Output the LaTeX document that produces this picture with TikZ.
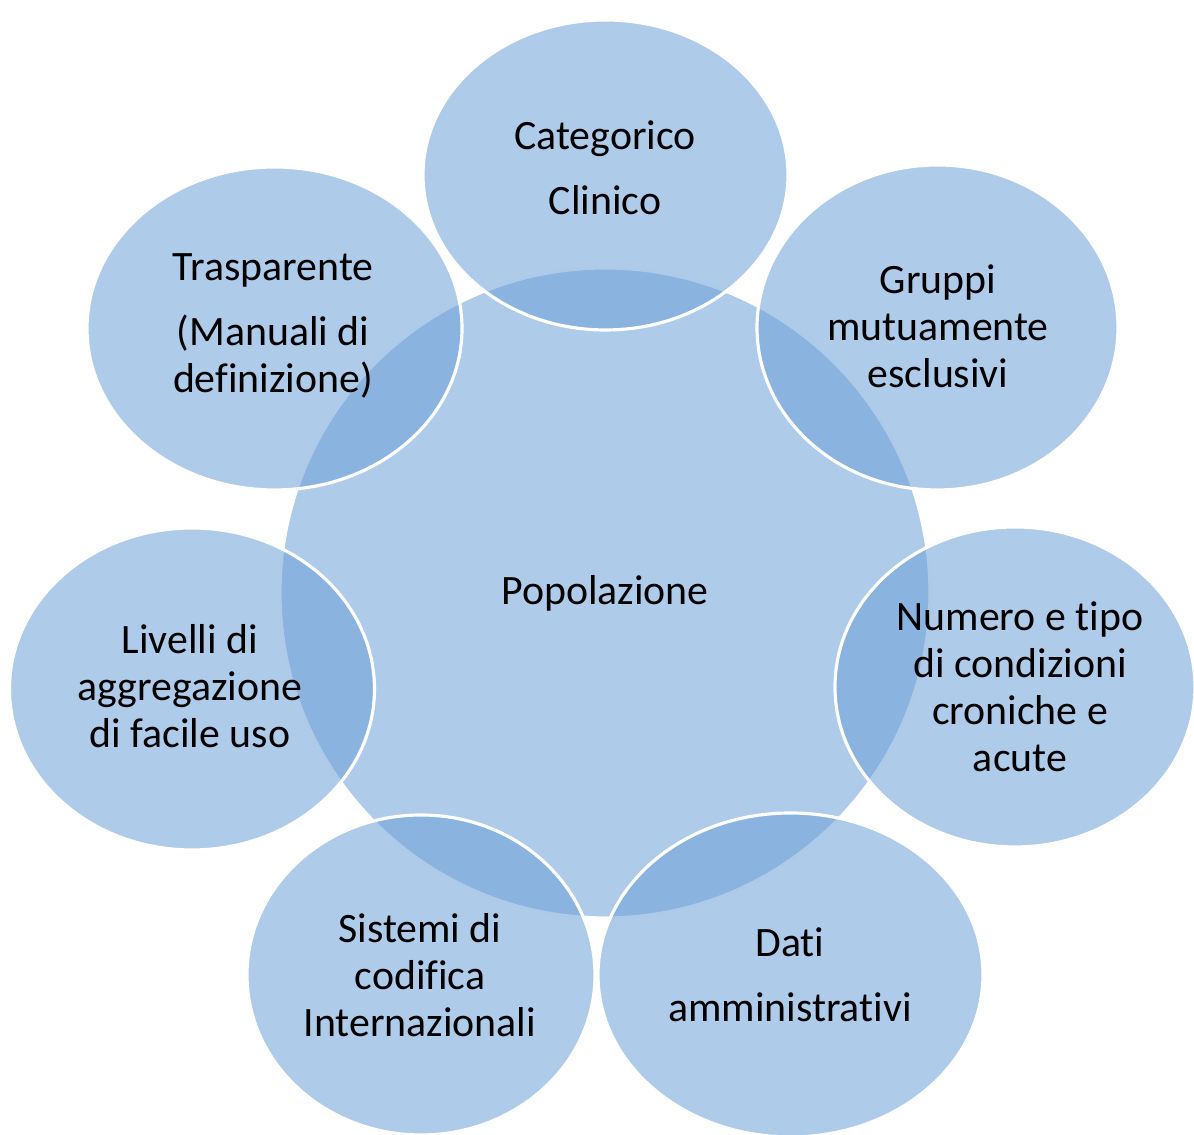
\documentclass[tikz,border=0pt]{standalone}
\usepackage{fontspec}
\setmainfont{Carlito}[Ligatures=NoCommon]
\usetikzlibrary{shapes.geometric}
\definecolor{bubble}{RGB}{108,160,215}
\tikzset{
  bub/.style={ellipse, inner sep=0pt, fill=bubble, fill opacity=0.55, draw=white, draw opacity=1, line width=0.9pt},
  txt/.style={align=center, text=black, font=\fontsize{11.9pt}{13.4pt}\selectfont, inner sep=0pt}
}
\begin{document}
\begin{tikzpicture}
\useasboundingbox (0,0) rectangle (11.94,11.35);
\clip (0,0) rectangle (11.94,11.35);
% central circle
\node[bub, minimum width=6.5cm, minimum height=6.5cm] (pop) at (6.05,5.42) {};
% satellites
\node[bub, minimum width=3.65cm, minimum height=3.10cm] (top) at (6.055,9.60) {};
\node[bub, minimum width=3.75cm, minimum height=3.23cm] (tl) at (2.745,8.065) {};
\node[bub, minimum width=3.61cm, minimum height=3.25cm] (tr) at (9.375,8.075) {};
\node[bub, minimum width=3.60cm, minimum height=3.20cm] (r) at (10.15,4.48) {};
\node[bub, minimum width=3.85cm, minimum height=3.24cm] (br) at (7.905,1.60) {};
\node[bub, minimum width=3.48cm, minimum height=3.20cm] (bl) at (4.21,1.60) {};
\node[bub, minimum width=3.65cm, minimum height=3.22cm] (l) at (1.92,4.46) {};
% labels
\node[txt] (tPop) at (6.05,5.42) {Popolazione};
\node[txt] (tTop) at (6.05,9.675) {Categorico\\[5.1pt]Clinico};
\node[txt] (tTl) at (2.73,8.09) {Trasparente\\[5.1pt](Manuali di\\definizione)};
\node[txt] (tTr) at (9.38,8.085) {Gruppi\\mutuamente\\esclusivi};
\node[txt] (tR) at (10.20,4.48) {Numero e tipo\\di condizioni\\croniche e\\acute};
\node[txt] (tL) at (1.90,4.485) {Livelli di\\aggregazione\\di facile uso};
\node[txt] (tBl) at (4.20,1.60) {Sistemi di\\codifica\\Internazionali};
\node[txt] (tBr) at (7.90,1.60) {Dati\\[5.1pt]amministrativi};
\end{tikzpicture}
\end{document}
